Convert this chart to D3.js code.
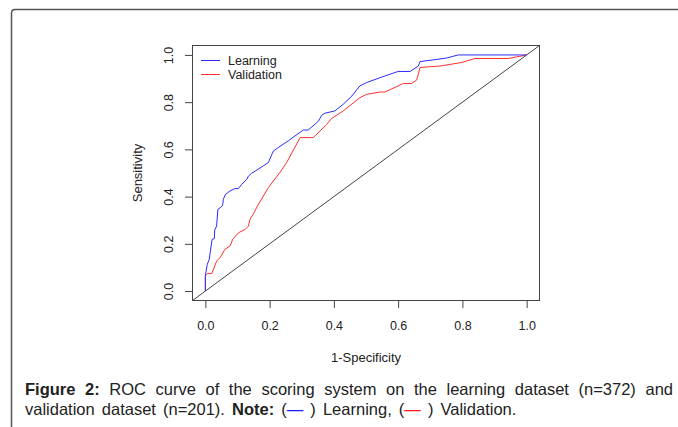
<!DOCTYPE html>
<html>
<head>
<meta charset="utf-8">
<script src="https://cdn.jsdelivr.net/npm/d3@7"></script>
<style>
  body { margin: 0; background: #fff; }
  svg { display: block; font-family: "Liberation Sans", Arial, sans-serif; }
</style>
</head>
<body>
<div id="chart"></div>
<script>
// ROC points (1-specificity, sensitivity)
var learningFpr = [0, 0, 0.006, 0.012, 0.021, 0.028, 0.029, 0.035, 0.039, 0.046, 0.054, 0.056, 0.063, 0.077, 0.092, 0.103, 0.113, 0.129, 0.134, 0.144, 0.155, 0.180, 0.196, 0.207, 0.212, 0.227, 0.258, 0.279, 0.305, 0.320, 0.341, 0.352, 0.362, 0.372, 0.403, 0.429, 0.456, 0.481, 0.502, 0.544, 0.600, 0.637, 0.663, 0.668, 0.709, 0.751, 0.787, 1];
var learningTpr = [0, 0.064, 0.113, 0.134, 0.219, 0.222, 0.258, 0.275, 0.346, 0.353, 0.363, 0.389, 0.410, 0.424, 0.434, 0.434, 0.452, 0.473, 0.487, 0.499, 0.508, 0.530, 0.544, 0.579, 0.593, 0.608, 0.636, 0.657, 0.682, 0.682, 0.706, 0.720, 0.744, 0.753, 0.763, 0.791, 0.826, 0.869, 0.883, 0.904, 0.930, 0.930, 0.953, 0.972, 0.979, 0.987, 1, 1];
var validationFpr = [0, 0, 0.004, 0.006, 0.020, 0.035, 0.046, 0.061, 0.077, 0.085, 0.103, 0.124, 0.134, 0.139, 0.149, 0.162, 0.196, 0.232, 0.253, 0.295, 0.336, 0.378, 0.393, 0.429, 0.481, 0.502, 0.544, 0.559, 0.616, 0.642, 0.658, 0.668, 0.730, 0.798, 0.839, 0.943, 1];
var validationTpr = [0, 0.064, 0.071, 0.074, 0.074, 0.127, 0.142, 0.177, 0.191, 0.219, 0.247, 0.261, 0.275, 0.304, 0.325, 0.360, 0.438, 0.502, 0.544, 0.650, 0.650, 0.706, 0.731, 0.763, 0.819, 0.833, 0.843, 0.843, 0.879, 0.879, 0.894, 0.947, 0.953, 0.968, 0.985, 0.985, 1];
var xTicks = [0, 0.2, 0.4, 0.6, 0.8, 1.0];
var yTicks = [0, 0.2, 0.4, 0.6, 0.8, 1.0];
var seriesNames = ["Learning", "Validation"];
var seriesColors = ["#2b2bff", "#ff3030"];

function draw_roc(selector) {
  var width = 678, height = 427;
  var svg = d3.select(selector).append("svg")
    .attr("width", width)
    .attr("height", height);

  // page frame (left + top border of the figure box)
  svg.append("path")
    .attr("d", "M11.5,427 L11.5,13 Q11.5,9.5 15,9.5 L678,9.5")
    .attr("fill", "none")
    .attr("stroke", "#555")
    .attr("stroke-width", 1.5);

  // R style axes: 4% padding around [0,1]
  var x = d3.scaleLinear().domain([-0.04, 1.04]).range([192.5, 539.5]);
  var y = d3.scaleLinear().domain([-0.04, 1.04]).range([300.5, 45.5]);

  var g = svg.append("g");

  // diagonal reference line
  g.append("line")
    .attr("x1", x(-0.04)).attr("y1", y(-0.04))
    .attr("x2", x(1.04)).attr("y2", y(1.04))
    .attr("stroke", "#444").attr("stroke-width", 1);

  var line = d3.line()
    .x(function(d) { return x(d[0]); })
    .y(function(d) { return y(d[1]); });

  var series = [
    d3.zip(learningFpr, learningTpr),
    d3.zip(validationFpr, validationTpr)
  ];
  // draw validation first so learning sits on top
  for (var i = series.length - 1; i >= 0; i--) {
    g.append("path")
      .datum(series[i])
      .attr("d", line)
      .attr("fill", "none")
      .attr("stroke", seriesColors[i])
      .attr("stroke-width", 1);
  }

  // plot box
  g.append("rect")
    .attr("x", x(-0.04)).attr("y", y(1.04))
    .attr("width", x(1.04) - x(-0.04))
    .attr("height", y(-0.04) - y(1.04))
    .attr("fill", "none")
    .attr("stroke", "#444");

  var xAxis = d3.axisBottom(x).tickValues(xTicks).tickFormat(d3.format(".1f")).tickSize(7).tickPadding(13);
  var yAxis = d3.axisLeft(y).tickValues(yTicks).tickFormat(d3.format(".1f")).tickSize(7);

  var gx = svg.append("g").attr("transform", "translate(0," + (y(-0.04) + 0.5) + ")").call(xAxis);
  gx.select(".domain").remove();
  gx.selectAll("line").attr("stroke", "#444");
  gx.selectAll("text").attr("fill", "#222").style("font-size", "12.5px");

  var gy = svg.append("g").attr("transform", "translate(" + (x(-0.04) - 0.5) + ",0)").call(yAxis);
  gy.select(".domain").remove();
  gy.selectAll("line").attr("stroke", "#444");
  // R draws y labels parallel to the axis
  gy.selectAll(".tick text")
    .attr("fill", "#222")
    .style("font-size", "12.5px")
    .attr("text-anchor", "middle")
    .attr("transform", "rotate(-90)")
    .attr("x", 0)
    .attr("y", -23)
    .attr("dy", "0.32em");

  // axis titles
  svg.append("text")
    .attr("x", (x(-0.04) + x(1.04)) / 2)
    .attr("y", 362)
    .attr("text-anchor", "middle")
    .attr("fill", "#222")
    .style("font-size", "13px")
    .text("1-Specificity");

  svg.append("text")
    .attr("transform", "translate(142," + (y(-0.04) + y(1.04)) / 2 + ") rotate(-90)")
    .attr("text-anchor", "middle")
    .attr("fill", "#222")
    .style("font-size", "13px")
    .text("Sensitivity");

  // legend (no box)
  var legend = svg.append("g").selectAll("g").data(seriesNames).enter().append("g")
    .attr("transform", function(d, i) { return "translate(201," + (60.5 + i * 14) + ")"; });
  legend.append("line")
    .attr("x1", 0).attr("x2", 19)
    .attr("stroke", function(d, i) { return seriesColors[i]; });
  legend.append("text")
    .attr("x", 27).attr("dy", "0.35em")
    .attr("fill", "#222")
    .style("font-size", "12.5px")
    .text(function(d) { return d; });

  // caption
  var capSize = "16.5px";
  var cap1 = svg.append("text")
    .attr("x", 25).attr("y", 395)
    .attr("fill", "#222")
    .style("font-size", capSize);
  cap1.append("tspan").style("font-weight", "bold").text("Figure 2:");
  cap1.append("tspan").text(" ROC curve of the scoring system on the learning dataset (n=372) and");
  // justify first line by widening the word gaps
  var natural = cap1.node().getComputedTextLength();
  var gaps = 12;
  cap1.style("word-spacing", Math.max(0, (643 - natural) / gaps) + "px");

  var cap2 = svg.append("text")
    .attr("x", 25).attr("y", 415)
    .attr("fill", "#222")
    .style("font-size", capSize)
    .style("word-spacing", "2.5px");
  cap2.append("tspan").text("validation dataset (n=201). ");
  cap2.append("tspan").style("font-weight", "bold").text("Note:");
  cap2.append("tspan").text(" (");
  cap2.append("tspan").attr("fill", "#1a1aff").text("\u2014");
  cap2.append("tspan").text(" ) Learning, (");
  cap2.append("tspan").attr("fill", "#ff1a1a").text("\u2014");
  cap2.append("tspan").text(" ) Validation.");
}

draw_roc("#chart");
</script>
</body>
</html>
